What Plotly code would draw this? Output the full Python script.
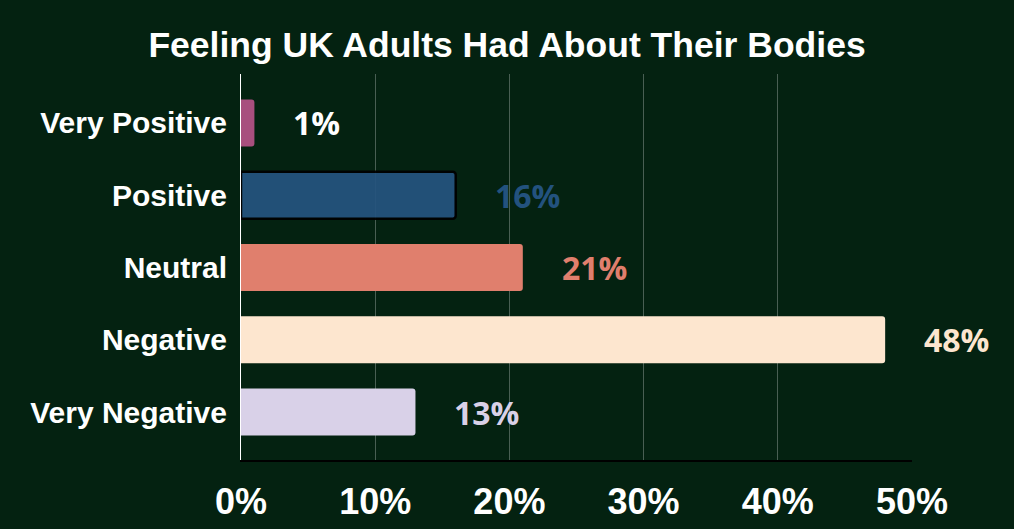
import plotly.graph_objects as go

# Data
categories = ["Very Positive", "Positive", "Neutral", "Negative", "Very Negative"]
shares = [1, 16, 21, 48, 13]
bar_colors = ["#A84F7E", "#25547F", "#E07F6D", "#FDE6CF", "#D9D1E8"]
label_colors = ["#FFFFFF", "#23527E", "#E07F6D", "#FDE6CF", "#D9D1E8"]
tick_vals = [0, 10, 20, 30, 40, 50]
tick_text = ["0%", "10%", "20%", "30%", "40%", "50%"]

bg = "#042211"
x_max = 50

fig = go.Figure(go.Bar(
    x=shares,
    y=categories,
    orientation="h",
    width=0.65,
    marker=dict(
        color=bar_colors,
        opacity=[1, 0.93, 1, 1, 1],
        line=dict(color=["rgba(0,0,0,0)", "#000000", "rgba(0,0,0,0)", "rgba(0,0,0,0)", "rgba(0,0,0,0)"],
                  width=[0, 2.5, 0, 0, 0]),
        cornerradius=3,
    ),
    hoverinfo="skip",
))

# value labels just past the end of each bar (paper x so 48% is not hidden past the range)
for cat, val, col in zip(categories, shares, label_colors):
    fig.add_annotation(
        x=(val + 2.75) / x_max, xref="paper", y=cat, yref="y",
        text=f"{val}%", showarrow=False,
        xanchor="left", yanchor="middle",
        font=dict(family="Open Sans", size=32, color=col, weight="bold"),
    )

fig.update_layout(
    width=1014, height=529,
    paper_bgcolor=bg, plot_bgcolor=bg,
    margin=dict(l=241, r=102, t=74, b=69),
    title=dict(
        text="<b>Feeling UK Adults Had About Their Bodies</b>",
        x=0.5, xanchor="center", y=1 - 45 / 529, yanchor="middle",
        font=dict(family="Liberation Sans, Arial", size=35.5, color="white"),
    ),
    showlegend=False,
    xaxis=dict(
        range=[0, x_max],
        tickvals=tick_vals, ticktext=tick_text,
        tickfont=dict(family="Liberation Sans, Arial", size=36, color="white", weight="bold"),
        showgrid=True, gridcolor="rgba(255,255,255,0.28)", gridwidth=1,
        zeroline=False,
        showline=True, linecolor="#000000", linewidth=2,
        ticks="", ticklabelstandoff=9, automargin=False,
    ),
    yaxis=dict(
        categoryorder="array", categoryarray=categories,
        range=[4.664, -0.678],
        tickfont=dict(family="Liberation Sans, Arial", size=30, color="white", weight="bold"),
        showgrid=False, zeroline=False,
        showline=True, linecolor="#FFFFFF", linewidth=1,
        ticks="", ticklabelstandoff=7, automargin=False,
    ),
)

fig.write_html("out.html", config={"displayModeBar": False},
               post_script="document.body.style.margin='0';")
